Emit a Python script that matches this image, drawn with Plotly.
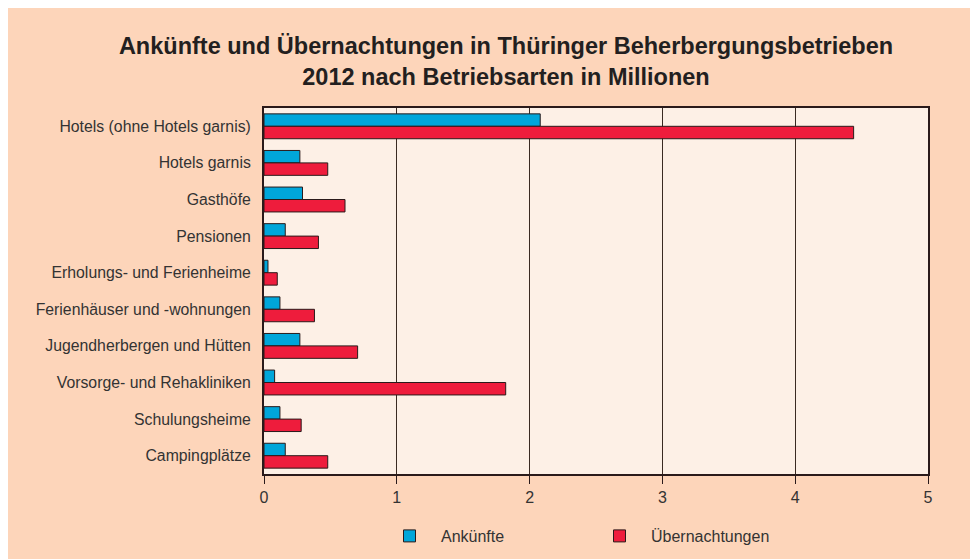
import plotly.graph_objects as go

categories = [
    "Hotels (ohne Hotels garnis)",
    "Hotels garnis",
    "Gasthöfe",
    "Pensionen",
    "Erholungs- und Ferienheime",
    "Ferienhäuser und -wohnungen",
    "Jugendherbergen und Hütten",
    "Vorsorge- und Rehakliniken",
    "Schulungsheime",
    "Campingplätze",
]
ankuenfte = [2.08, 0.27, 0.29, 0.16, 0.03, 0.12, 0.27, 0.08, 0.12, 0.16]
uebernachtungen = [4.44, 0.48, 0.61, 0.41, 0.10, 0.38, 0.705, 1.82, 0.28, 0.48]
x_ticks = [0, 1, 2, 3, 4, 5]

W, H = 978, 559
L, R, T, B = 256, 58, 100, 93
pw, ph = W - L - R, H - T - B

def px_x(p):
    return (p - L) / pw

def px_y(p):
    return (H - B - p) / ph

PEACH = "#FDD5BA"
PLOTBG = "#FDF0E6"
BLUE = "#00A6DA"
RED = "#EE1C3C"
OUTLINE = "#2a1a1a"
GRID = "#3a2a22"

fig = go.Figure()
fig.add_trace(go.Bar(
    y=categories, x=ankuenfte, orientation="h", name="Ankünfte",
    marker=dict(color=BLUE, line=dict(color=OUTLINE, width=1)),
))
fig.add_trace(go.Bar(
    y=categories, x=uebernachtungen, orientation="h", name="Übernachtungen",
    marker=dict(color=RED, line=dict(color=OUTLINE, width=1)),
))

fig.update_layout(
    width=W, height=H,
    margin=dict(l=L, r=R, t=T, b=B, pad=0, autoexpand=False),
    paper_bgcolor=PEACH,
    plot_bgcolor=PLOTBG,
    barmode="group",
    bargap=0.32,
    bargroupgap=0,
    font=dict(family="Liberation Sans, Arial, sans-serif", size=16, color="#333333"),
    title=dict(
        text="<b>Ankünfte und Übernachtungen in Thüringer Beherbergungsbetrieben<br>2012 nach Betriebsarten in Millionen</b>",
        x=498 / W, xref="container", xanchor="center",
        y=1 - 46 / H, yref="container", yanchor="top",
        font=dict(size=23.5, color="#231f20"),
    ),
    xaxis=dict(
        range=[0, 5], tickvals=x_ticks, ticktext=[str(v) for v in x_ticks],
        showgrid=True, gridcolor=GRID, gridwidth=1.3,
        showline=True, linecolor=OUTLINE, linewidth=2, mirror=True,
        ticks="outside", ticklen=8, tickcolor=OUTLINE, tickwidth=1.3,
        zeroline=False, fixedrange=True,
        tickfont=dict(size=16, color="#333333"),
    ),
    yaxis=dict(
        autorange="reversed", showgrid=False,
        showline=True, linecolor=OUTLINE, linewidth=2, mirror=True,
        ticks="", ticklabelstandoff=8,
        tickfont=dict(size=15.8, color="#333333"),
    ),
    legend=dict(
        orientation="h", x=px_x(370), y=px_y(511), xanchor="left", yanchor="top",
        bgcolor="rgba(0,0,0,0)", entrywidth=142, entrywidthmode="pixels",
        itemwidth=53,
        font=dict(size=16, color="#333333"), traceorder="normal",
    ),
)

fig.write_html("out.html")
